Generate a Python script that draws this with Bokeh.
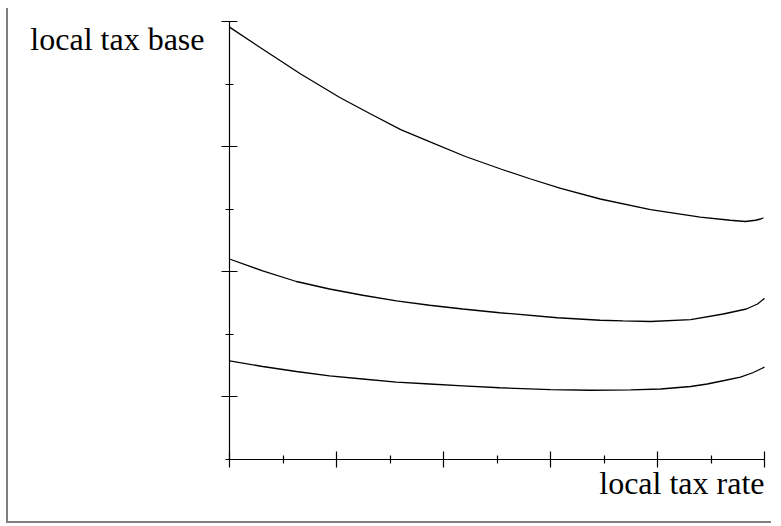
from bokeh.plotting import figure
from bokeh.models import Label, FixedTicker, CustomJSTickFormatter, Range1d
from bokeh.embed import file_html
from bokeh.resources import INLINE

# ---- data (in axis units) ----
x_ticks_major = [0, 2, 4, 6, 8, 10]
x_ticks_minor = [1, 3, 5, 7, 9]
y_ticks_major = [1, 3, 5, 7]
y_ticks_minor = [0, 2, 4, 6]

top_x = [0.00, 0.58, 1.33, 2.07, 2.64, 3.20, 3.76, 4.41, 5.07, 5.63, 6.19, 6.93, 7.87, 8.80, 9.36, 9.64, 9.83, 9.93, 9.98]
top_y = [6.91, 6.58, 6.16, 5.78, 5.52, 5.27, 5.07, 4.84, 4.64, 4.48, 4.33, 4.16, 3.99, 3.87, 3.82, 3.80, 3.82, 3.84, 3.86]

mid_x = [0.00, 0.62, 1.25, 1.87, 2.49, 3.12, 3.74, 4.36, 5.05, 6.13, 6.93, 7.36, 7.87, 8.62, 9.23, 9.66, 9.87, 10.00]
mid_y = [3.20, 3.01, 2.84, 2.72, 2.62, 2.53, 2.46, 2.40, 2.34, 2.26, 2.22, 2.21, 2.20, 2.23, 2.32, 2.40, 2.48, 2.57]

low_x = [0.00, 0.62, 1.25, 1.87, 2.49, 3.12, 3.74, 4.36, 5.05, 6.00, 6.75, 7.50, 8.06, 8.62, 8.93, 9.27, 9.55, 9.78, 10.00]
low_y = [1.57, 1.48, 1.40, 1.33, 1.28, 1.23, 1.20, 1.17, 1.14, 1.11, 1.10, 1.105, 1.12, 1.16, 1.20, 1.26, 1.31, 1.38, 1.47]

x_label = "local tax rate"
y_label = "local tax base"

FONT = "Liberation Serif"

# ---- layout (pixels) ----
W, H = 765, 515
BORDER = 2
PAD_L, PAD_B = 20, 10          # room for the (empty) axis side panels
CX0, CY0 = 8, 8                # canvas origin on the page
ORIGIN_PX, ORIGIN_PY = 229, 458.5
SX, SY = 53.5, 62.5            # pixels per axis unit

frame_l = CX0 + PAD_L
frame_r = CX0 + W
frame_t = CY0
frame_b = CY0 + H - PAD_B

xr = Range1d((frame_l - ORIGIN_PX) / SX, (frame_r - ORIGIN_PX) / SX)
yr = Range1d((ORIGIN_PY - frame_b) / SY, (ORIGIN_PY - frame_t) / SY)

p = figure(width=W, height=H, output_backend="svg", toolbar_location=None,
           x_range=xr, y_range=yr,
           min_border_left=PAD_L, min_border_right=0, min_border_top=0, min_border_bottom=PAD_B)
p.styles = {"border-left": f"{BORDER}px solid #808080", "border-bottom": f"{BORDER}px solid #808080",
            "margin-left": "6px", "margin-top": "8px"}
p.outline_line_color = None
p.grid.visible = False
p.background_fill_color = "white"
p.border_fill_color = "white"

for ax, maj, mnr, hi in ((p.xaxis[0], x_ticks_major, x_ticks_minor, max(x_ticks_major)),
                         (p.yaxis[0], y_ticks_major, y_ticks_minor, max(y_ticks_major))):
    ax.ticker = FixedTicker(ticks=maj, minor_ticks=mnr)
    ax.formatter = CustomJSTickFormatter(code="return ''")
    ax.major_label_text_font_size = "0px"
    ax.fixed_location = 0
    ax.bounds = (0, hi)
    ax.major_tick_in = 8
    ax.major_tick_out = 8
    ax.minor_tick_in = 4
    ax.minor_tick_out = 4
    ax.axis_line_color = "black"
    ax.major_tick_line_color = "black"
    ax.minor_tick_line_color = "black"
    ax.axis_line_width = 1.2
    ax.major_tick_line_width = 1.2
    ax.minor_tick_line_width = 1.2
    ax.major_label_standoff = 0

for xs, ys in ((top_x, top_y), (mid_x, mid_y), (low_x, low_y)):
    p.line(xs, ys, line_color="black", line_width=1.3)

p.add_layout(Label(x=0, y=max(y_ticks_major), text=y_label, text_align="right", text_baseline="alphabetic",
                   x_offset=-25, y_offset=-17.5, text_font=FONT, text_font_size="32px",
                   text_color="black"))
p.add_layout(Label(x=max(x_ticks_major), y=0, text=x_label, text_align="right", text_baseline="alphabetic",
                   x_offset=0, y_offset=-24, text_font=FONT, text_font_size="32px",
                   text_color="black"))

open("out.html", "w").write(file_html(p, INLINE))
